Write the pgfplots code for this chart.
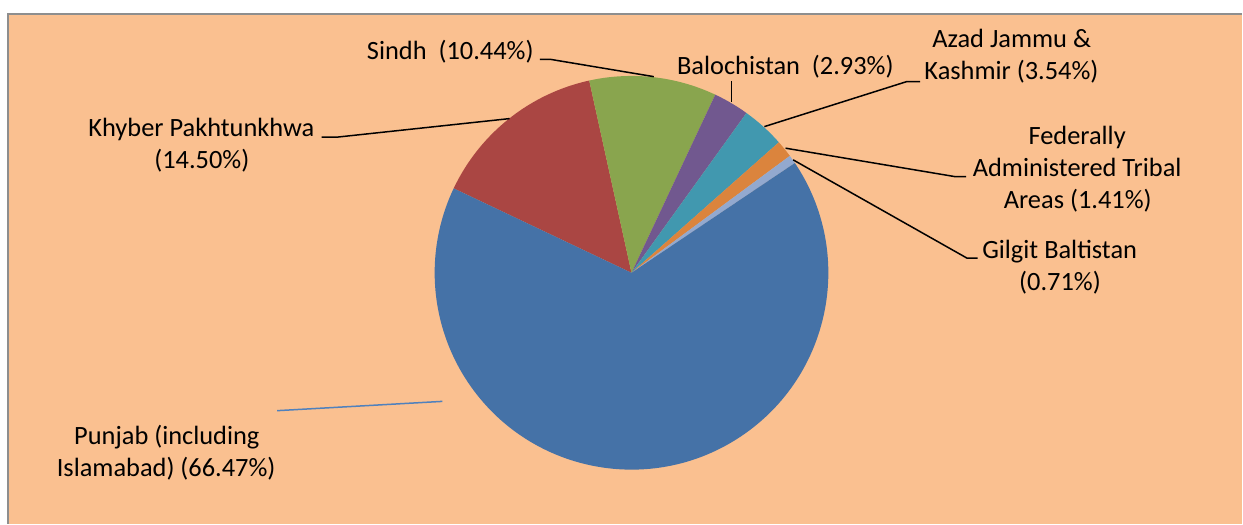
\documentclass[border=0pt]{standalone}
\usepackage{pgfplots}
\pgfplotsset{compat=1.18}
\usepackage{fontspec}
\setmainfont{Carlito}

\definecolor{bgpeach}{HTML}{FAC090}
\definecolor{frame}{HTML}{8E8E8E}
\definecolor{cPJ}{HTML}{4572A7}
\definecolor{cKP}{HTML}{AA4643}
\definecolor{cSI}{HTML}{89A54E}
\definecolor{cBA}{HTML}{71588F}
\definecolor{cAJ}{HTML}{4198AF}
\definecolor{cFA}{HTML}{DB843D}
\definecolor{cGB}{HTML}{93A9CF}
\definecolor{lead}{HTML}{4F81BD}

% pie: centre (632,273) px, radius 197 px = 98.5pt; slices clockwise from 154.6 deg
\def\r{98.5pt}
\tikzset{lbl/.style={font=\fontsize{13.2}{16}\selectfont, anchor=base, inner sep=0pt}}

\begin{document}
\begin{tikzpicture}
\begin{axis}[width=621.5pt, height=262pt, scale only axis,
  xmin=0, xmax=1243, ymin=0, ymax=524, y dir=reverse,
  hide axis, clip=false]
\fill[white] (axis cs:0,0) rectangle (axis cs:1243,524);
\fill[bgpeach] (axis cs:8,14) rectangle (axis cs:1243,524);
\draw[frame, line width=1pt] (axis cs:8.5,524) -- (axis cs:8.5,14.5) -- (axis cs:1243,14.5);

% shares in percent: KP 14.50, Sindh 10.44, Balochistan 2.93, AJK 3.54, FATA 1.41, GB 0.71, Punjab 66.47
\fill[cKP] (axis cs:632,273) -- ++(154.6:\r) arc[start angle=154.6, delta angle=-3.6*14.50, radius=\r] -- cycle;
\fill[cSI] (axis cs:632,273) -- ++({154.6-3.6*14.50}:\r) arc[start angle={154.6-3.6*14.50}, delta angle=-3.6*10.44, radius=\r] -- cycle;
\fill[cBA] (axis cs:632,273) -- ++({154.6-3.6*24.94}:\r) arc[start angle={154.6-3.6*24.94}, delta angle=-3.6*2.93, radius=\r] -- cycle;
\fill[cAJ] (axis cs:632,273) -- ++({154.6-3.6*27.87}:\r) arc[start angle={154.6-3.6*27.87}, delta angle=-3.6*3.54, radius=\r] -- cycle;
\fill[cFA] (axis cs:632,273) -- ++({154.6-3.6*31.41}:\r) arc[start angle={154.6-3.6*31.41}, delta angle=-3.6*1.41, radius=\r] -- cycle;
\fill[cGB] (axis cs:632,273) -- ++({154.6-3.6*32.82}:\r) arc[start angle={154.6-3.6*32.82}, delta angle=-3.6*0.71, radius=\r] -- cycle;
\fill[cPJ] (axis cs:632,273) -- ++({154.6-3.6*33.53}:\r) arc[start angle={154.6-3.6*33.53}, delta angle=-3.6*66.47, radius=\r] -- cycle;

% leader lines
\addplot[black, line width=0.75pt] coordinates {(540.4,59.3) (550.3,59.3) (654.3,76.7)};
\addplot[black, line width=0.75pt] coordinates {(321.8,137.3) (336.8,137.3) (510,118.7)};
\addplot[black, line width=0.75pt] coordinates {(732.3,81) (732.3,102.3)};
\addplot[black, line width=0.75pt] coordinates {(920.8,81.7) (907.3,81.7) (765,126.7)};
\addplot[black, line width=0.75pt] coordinates {(966.9,176.7) (955.4,176.7) (786.2,148.3)};
\addplot[black, line width=0.75pt] coordinates {(978.5,258.3) (967.7,258.3) (793.8,160)};
\addplot[lead, line width=0.75pt] coordinates {(277.3,411) (442.7,401.7)};

% labels
\node[lbl] at (axis cs:450.6,59.5) {Sindh\ \ (10.44\%)};
\node[lbl] at (axis cs:201.5,137) {Khyber Pakhtunkhwa};
\node[lbl] at (axis cs:202,169) {(14.50\%)};
\node[lbl] at (axis cs:786,75) {Balochistan\ \ (2.93\%)};
\node[lbl] at (axis cs:1012.5,47.5) {Azad Jammu \&};
\node[lbl] at (axis cs:1012.3,79.5) {Kashmir (3.54\%)};
\node[lbl] at (axis cs:1078,145) {Federally};
\node[lbl] at (axis cs:1078,177) {Administered Tribal};
\node[lbl] at (axis cs:1078.6,209) {Areas (1.41\%)};
\node[lbl] at (axis cs:1060.5,258.5) {Gilgit Baltistan};
\node[lbl] at (axis cs:1060.8,290.5) {(0.71\%)};
\node[lbl] at (axis cs:167,445) {Punjab (including};
\node[lbl] at (axis cs:166.3,477) {Islamabad) (66.47\%)};
\end{axis}
\end{tikzpicture}
\end{document}
